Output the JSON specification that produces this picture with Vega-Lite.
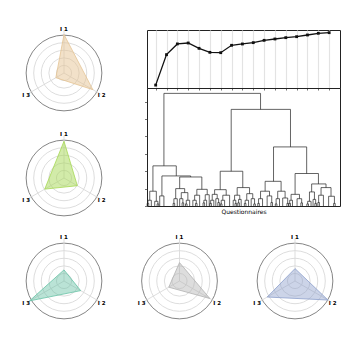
{
"$schema": "https://vega.github.io/schema/vega-lite/v6.json",
"background": "white",
"padding": {"left": 14, "top": 23, "right": 0, "bottom": 0},
"config": {"view": {"stroke": null}, "font": "DejaVu Sans", "axis": {"tickColor": "#333", "tickWidth": 0.7}},
"spacing": 3,
"vconcat": [
 {"spacing": 29, "hconcat": [
  {"bounds": "flush", "spacing": 5, "vconcat": [
   {"width": 100, "height": 100, "layer": [
    {"data": {"values": [{"r":0.2,"c":"g"},{"r":0.4,"c":"g"},{"r":0.6,"c":"g"},{"r":0.8,"c":"g"},{"r":1,"c":"o"}]}, "mark": {"type":"point","shape":"circle","filled":false,"opacity":1,"strokeWidth":0.9}, "encoding": {"size": {"field":"r","type":"quantitative","legend":null,"scale":{"type":"pow","exponent":2,"domain":[0,1.17],"range":[0,7854],"zero":true,"nice":false}}, "color": {"field":"c","type":"nominal","legend":null,"scale":{"domain":["g","o"],"range":["#d9d9d9","#777777"]}}}},
    {"data": {"values": [{"axis":"I 1","v":0.9},{"axis":"I 2","v":0.78},{"axis":"I 3","v":0.22}]},
     "transform": [
      {"calculate": "datum.axis == 'I 1' ? 0 : (datum.axis == 'I 2' ? 0.866 : -0.866)", "as": "ux"},
      {"calculate": "datum.axis == 'I 1' ? 1 : -0.5", "as": "uy"},
      {"calculate": "0", "as": "z"},
      {"calculate": "datum.v * datum.ux", "as": "px"},
      {"calculate": "datum.v * datum.uy", "as": "py"},
      {"calculate": "1.02 * datum.ux", "as": "lx"},
      {"calculate": "1.02 * datum.uy", "as": "ly"}
     ],
     "layer": [
      {"mark": {"type":"rule","color":"#d9d9d9","strokeWidth":0.9}, "encoding": {"x": {"field":"ux","type":"quantitative","scale":{"domain":[-1.17,1.17],"nice":false,"zero":false},"axis":null}, "y": {"field":"uy","type":"quantitative","scale":{"domain":[-1.17,1.17],"nice":false,"zero":false},"axis":null}, "x2": {"field":"z"}, "y2": {"field":"z"}}},
      {"mark": {"type":"line","interpolate":"linear-closed","fill":"#e5c494","fillOpacity":0.5,"stroke":"#e5c494","strokeWidth":0.8}, "encoding": {"x": {"field":"px","type":"quantitative","scale":{"domain":[-1.17,1.17],"nice":false,"zero":false},"axis":null}, "y": {"field":"py","type":"quantitative","scale":{"domain":[-1.17,1.17],"nice":false,"zero":false},"axis":null}, "order": {"field":"axis","type":"ordinal"}}},
      {"mark": {"type":"text","fontSize":5.5,"fontWeight":"bold","fill":"#000"}, "encoding": {"x": {"field":"lx","type":"quantitative","scale":{"domain":[-1.17,1.17],"nice":false,"zero":false},"axis":null}, "y": {"field":"ly","type":"quantitative","scale":{"domain":[-1.17,1.17],"nice":false,"zero":false},"axis":null}, "text": {"field":"axis","type":"nominal"}}}
     ]}
   ]},
   {"width": 100, "height": 100, "layer": [
    {"data": {"values": [{"r":0.2,"c":"g"},{"r":0.4,"c":"g"},{"r":0.6,"c":"g"},{"r":0.8,"c":"g"},{"r":1,"c":"o"}]}, "mark": {"type":"point","shape":"circle","filled":false,"opacity":1,"strokeWidth":0.9}, "encoding": {"size": {"field":"r","type":"quantitative","legend":null,"scale":{"type":"pow","exponent":2,"domain":[0,1.17],"range":[0,7854],"zero":true,"nice":false}}, "color": {"field":"c","type":"nominal","legend":null,"scale":{"domain":["g","o"],"range":["#d9d9d9","#777777"]}}}},
    {"data": {"values": [{"axis":"I 1","v":0.86},{"axis":"I 2","v":0.36},{"axis":"I 3","v":0.52}]},
     "transform": [
      {"calculate": "datum.axis == 'I 1' ? 0 : (datum.axis == 'I 2' ? 0.866 : -0.866)", "as": "ux"},
      {"calculate": "datum.axis == 'I 1' ? 1 : -0.5", "as": "uy"},
      {"calculate": "0", "as": "z"},
      {"calculate": "datum.v * datum.ux", "as": "px"},
      {"calculate": "datum.v * datum.uy", "as": "py"},
      {"calculate": "1.02 * datum.ux", "as": "lx"},
      {"calculate": "1.02 * datum.uy", "as": "ly"}
     ],
     "layer": [
      {"mark": {"type":"rule","color":"#d9d9d9","strokeWidth":0.9}, "encoding": {"x": {"field":"ux","type":"quantitative","scale":{"domain":[-1.17,1.17],"nice":false,"zero":false},"axis":null}, "y": {"field":"uy","type":"quantitative","scale":{"domain":[-1.17,1.17],"nice":false,"zero":false},"axis":null}, "x2": {"field":"z"}, "y2": {"field":"z"}}},
      {"mark": {"type":"line","interpolate":"linear-closed","fill":"#a6d854","fillOpacity":0.5,"stroke":"#a6d854","strokeWidth":0.8}, "encoding": {"x": {"field":"px","type":"quantitative","scale":{"domain":[-1.17,1.17],"nice":false,"zero":false},"axis":null}, "y": {"field":"py","type":"quantitative","scale":{"domain":[-1.17,1.17],"nice":false,"zero":false},"axis":null}, "order": {"field":"axis","type":"ordinal"}}},
      {"mark": {"type":"text","fontSize":5.5,"fontWeight":"bold","fill":"#000"}, "encoding": {"x": {"field":"lx","type":"quantitative","scale":{"domain":[-1.17,1.17],"nice":false,"zero":false},"axis":null}, "y": {"field":"ly","type":"quantitative","scale":{"domain":[-1.17,1.17],"nice":false,"zero":false},"axis":null}, "text": {"field":"axis","type":"nominal"}}}
     ]}
   ]}
  ]},
  {"bounds": "flush", "spacing": 0, "vconcat": [
   {"width": 193, "height": 7, "data": {"values": [{"a":1}]}, "mark": {"type":"point","opacity":0}, "encoding": {}},
   {"width": 193, "height": 58, "view": {"stroke": "#222222", "strokeWidth": 1},
    "data": {"values": [{"k":1,"v":0.05},{"k":2,"v":0.575},{"k":3,"v":0.76},{"k":4,"v":0.776},{"k":5,"v":0.684},{"k":6,"v":0.615},{"k":7,"v":0.609},{"k":8,"v":0.736},{"k":9,"v":0.759},{"k":10,"v":0.782},{"k":11,"v":0.822},{"k":12,"v":0.845},{"k":13,"v":0.868},{"k":14,"v":0.885},{"k":15,"v":0.914},{"k":16,"v":0.943},{"k":17,"v":0.954}]},
    "layer": [
     {"mark": {"type":"line","color":"#111","strokeWidth":1.3}, "encoding": {"x": {"field":"k","type":"quantitative","scale":{"domain":[0.2,18],"nice":false,"zero":false},"axis":{"values":[1,2,3,4,5,6,7,8,9,10,11,12,13,14,15,16,17],"grid":true,"gridColor":"#e3e3e3","gridWidth":1.2,"labels":false,"ticks":true,"tickSize":2,"domain":false,"title":null}}, "y": {"field":"v","type":"quantitative","scale":{"domain":[0,1],"nice":false,"zero":false},"axis":null}}},
     {"mark": {"type":"square","color":"#111","size":8,"filled":true,"opacity":1}, "encoding": {"x": {"field":"k","type":"quantitative","scale":{"domain":[0.2,18],"nice":false,"zero":false},"axis":{"values":[1,2,3,4,5,6,7,8,9,10,11,12,13,14,15,16,17],"grid":true,"gridColor":"#e3e3e3","gridWidth":1.2,"labels":false,"ticks":true,"tickSize":2,"domain":false,"title":null}}, "y": {"field":"v","type":"quantitative","scale":{"domain":[0,1],"nice":false,"zero":false},"axis":null}}}
    ]},
   {"width": 193, "height": 118, "view": {"stroke": "#222222", "strokeWidth": 1},
    "data": {"values": [
     {"xl":11.3,"xr":59.7,"h":6.48,"hl":2.31,"hr":5.56},
     {"xl":5.8,"xr":17.5,"h":2.31,"hl":0.85,"hr":1.73},
     {"xl":4.2,"xr":7.5,"h":0.85,"hl":0.33,"hr":0.27},
     {"xl":3.3,"xr":5.0,"h":0.33,"hl":0.15,"hr":0},
     {"xl":2.9,"xr":3.7,"h":0.15,"hl":0,"hr":0},
     {"xl":6.7,"xr":8.3,"h":0.27,"hl":0,"hr":0.12},
     {"xl":7.9,"xr":8.7,"h":0.12,"hl":0,"hr":0},
     {"xl":10.3,"xr":24.7,"h":1.73,"hl":0.58,"hr":1.67},
     {"xl":9.2,"xr":11.3,"h":0.58,"hl":0,"hr":0},
     {"xl":19.2,"xr":30.3,"h":1.67,"hl":1.0,"hr":0.96},
     {"xl":17.2,"xr":21.7,"h":1.0,"hl":0.42,"hr":0.77},
     {"xl":16.3,"xr":18.0,"h":0.42,"hl":0.15,"hr":0},
     {"xl":15.9,"xr":16.7,"h":0.15,"hl":0,"hr":0},
     {"xl":20.0,"xr":23.3,"h":0.77,"hl":0.42,"hr":0.33},
     {"xl":19.2,"xr":20.8,"h":0.42,"hl":0,"hr":0.18},
     {"xl":20.4,"xr":21.2,"h":0.18,"hl":0,"hr":0},
     {"xl":22.5,"xr":24.2,"h":0.33,"hl":0.12,"hr":0},
     {"xl":22.1,"xr":22.9,"h":0.12,"hl":0,"hr":0},
     {"xl":27.8,"xr":33.0,"h":0.96,"hl":0.62,"hr":0.65},
     {"xl":26.7,"xr":29.2,"h":0.62,"hl":0.33,"hr":0},
     {"xl":25.8,"xr":27.5,"h":0.33,"hl":0,"hr":0.15},
     {"xl":27.1,"xr":27.9,"h":0.15,"hl":0,"hr":0},
     {"xl":32.0,"xr":34.0,"h":0.65,"hl":0.33,"hr":0},
     {"xl":31.3,"xr":32.7,"h":0.33,"hl":0.18,"hr":0},
     {"xl":30.9,"xr":31.7,"h":0.18,"hl":0,"hr":0},
     {"xl":45.0,"xr":74.7,"h":5.56,"hl":2.0,"hr":3.4},
     {"xl":39.5,"xr":50.8,"h":2.0,"hl":0.94,"hr":1.06},
     {"xl":36.7,"xr":42.5,"h":0.94,"hl":0.67,"hr":0.62},
     {"xl":35.5,"xr":38.0,"h":0.67,"hl":0.33,"hr":0.42},
     {"xl":34.7,"xr":36.3,"h":0.33,"hl":0.15,"hr":0},
     {"xl":34.3,"xr":35.1,"h":0.15,"hl":0,"hr":0},
     {"xl":37.3,"xr":38.7,"h":0.42,"hl":0,"hr":0.2},
     {"xl":38.3,"xr":39.1,"h":0.2,"hl":0,"hr":0},
     {"xl":40.8,"xr":44.2,"h":0.62,"hl":0.33,"hr":0},
     {"xl":40.0,"xr":41.7,"h":0.33,"hl":0.12,"hr":0},
     {"xl":39.6,"xr":40.4,"h":0.12,"hl":0,"hr":0},
     {"xl":48.0,"xr":54.2,"h":1.06,"hl":0.62,"hr":0.71},
     {"xl":46.7,"xr":49.3,"h":0.62,"hl":0.33,"hr":0.38},
     {"xl":46.0,"xr":47.3,"h":0.33,"hl":0,"hr":0.15},
     {"xl":46.9,"xr":47.7,"h":0.15,"hl":0,"hr":0},
     {"xl":48.7,"xr":50.0,"h":0.38,"hl":0.18,"hr":0},
     {"xl":48.3,"xr":49.1,"h":0.18,"hl":0,"hr":0},
     {"xl":52.8,"xr":55.8,"h":0.71,"hl":0.33,"hr":0.42},
     {"xl":52.0,"xr":53.7,"h":0.33,"hl":0.15,"hr":0},
     {"xl":51.6,"xr":52.4,"h":0.15,"hl":0,"hr":0},
     {"xl":55.0,"xr":56.7,"h":0.42,"hl":0,"hr":0.12},
     {"xl":56.3,"xr":57.1,"h":0.12,"hl":0,"hr":0},
     {"xl":66.2,"xr":82.8,"h":3.4,"hl":1.42,"hr":1.87},
     {"xl":62.0,"xr":70.0,"h":1.42,"hl":0.85,"hr":0.85},
     {"xl":59.7,"xr":64.2,"h":0.85,"hl":0.42,"hr":0.58},
     {"xl":58.7,"xr":60.7,"h":0.42,"hl":0.15,"hr":0},
     {"xl":58.3,"xr":59.1,"h":0.15,"hl":0,"hr":0},
     {"xl":63.0,"xr":65.3,"h":0.58,"hl":0,"hr":0.2},
     {"xl":64.9,"xr":65.7,"h":0.2,"hl":0,"hr":0},
     {"xl":68.3,"xr":72.0,"h":0.85,"hl":0.42,"hr":0.46},
     {"xl":67.5,"xr":69.2,"h":0.42,"hl":0.12,"hr":0},
     {"xl":67.1,"xr":67.9,"h":0.12,"hl":0,"hr":0},
     {"xl":70.8,"xr":73.3,"h":0.46,"hl":0,"hr":0.15},
     {"xl":72.9,"xr":73.7,"h":0.15,"hl":0,"hr":0},
     {"xl":77.0,"xr":88.7,"h":1.87,"hl":0.67,"hr":1.27},
     {"xl":75.0,"xr":79.2,"h":0.67,"hl":0.33,"hr":0.42},
     {"xl":74.3,"xr":75.7,"h":0.33,"hl":0.15,"hr":0},
     {"xl":73.9,"xr":74.7,"h":0.15,"hl":0,"hr":0},
     {"xl":78.0,"xr":80.3,"h":0.42,"hl":0,"hr":0.18},
     {"xl":79.9,"xr":80.7,"h":0.18,"hl":0,"hr":0},
     {"xl":85.3,"xr":92.5,"h":1.27,"hl":0.81,"hr":1.06},
     {"xl":84.2,"xr":86.7,"h":0.81,"hl":0.27,"hr":0.38},
     {"xl":83.3,"xr":85.0,"h":0.27,"hl":0.12,"hr":0},
     {"xl":82.9,"xr":83.7,"h":0.12,"hl":0,"hr":0},
     {"xl":86.0,"xr":87.3,"h":0.38,"hl":0,"hr":0.15},
     {"xl":86.9,"xr":87.7,"h":0.15,"hl":0,"hr":0},
     {"xl":90.0,"xr":95.0,"h":1.06,"hl":0.62,"hr":0.56},
     {"xl":88.8,"xr":91.2,"h":0.62,"hl":0.2,"hr":0},
     {"xl":88.4,"xr":89.2,"h":0.2,"hl":0,"hr":0},
     {"xl":93.8,"xr":96.7,"h":0.56,"hl":0,"hr":0.15},
     {"xl":96.3,"xr":97.1,"h":0.15,"hl":0,"hr":0}
    ]},
    "layer": [
     {"mark": {"type":"rule","color":"#222","strokeWidth":0.7}, "encoding": {"x": {"field":"xl","type":"quantitative","title":"Questionnaires","scale":{"domain":[2.83,99.5],"nice":false,"zero":false},"axis":{"labels":false,"ticks":false,"domain":false,"grid":false,"titleFontSize":6,"titleFontWeight":"normal","titleColor":"#000","titlePadding":2}}, "x2": {"field":"xr"}, "y": {"field":"h","type":"quantitative","title":null,"scale":{"domain":[0,6.79],"nice":false,"zero":false},"axis":{"values":[0,1,2,3,4,5,6],"labels":false,"tickSize":2.5,"domain":false,"grid":false}}}},
     {"mark": {"type":"rule","color":"#222","strokeWidth":0.7}, "encoding": {"x": {"field":"xl","type":"quantitative","title":"Questionnaires","scale":{"domain":[2.83,99.5],"nice":false,"zero":false},"axis":{"labels":false,"ticks":false,"domain":false,"grid":false,"titleFontSize":6,"titleFontWeight":"normal","titleColor":"#000","titlePadding":2}}, "y": {"field":"hl","type":"quantitative","title":null,"scale":{"domain":[0,6.79],"nice":false,"zero":false},"axis":{"values":[0,1,2,3,4,5,6],"labels":false,"tickSize":2.5,"domain":false,"grid":false}}, "y2": {"field":"h"}}},
     {"mark": {"type":"rule","color":"#222","strokeWidth":0.7}, "encoding": {"x": {"field":"xr","type":"quantitative","title":"Questionnaires","scale":{"domain":[2.83,99.5],"nice":false,"zero":false},"axis":{"labels":false,"ticks":false,"domain":false,"grid":false,"titleFontSize":6,"titleFontWeight":"normal","titleColor":"#000","titlePadding":2}}, "y": {"field":"hr","type":"quantitative","title":null,"scale":{"domain":[0,6.79],"nice":false,"zero":false},"axis":{"values":[0,1,2,3,4,5,6],"labels":false,"tickSize":2.5,"domain":false,"grid":false}}, "y2": {"field":"h"}}}
    ]}
  ]}
 ]},
 {"bounds": "flush", "spacing": 15.5, "hconcat": [
  {"width": 100, "height": 100, "layer": [
   {"data": {"values": [{"r":0.2,"c":"g"},{"r":0.4,"c":"g"},{"r":0.6,"c":"g"},{"r":0.8,"c":"g"},{"r":1,"c":"o"}]}, "mark": {"type":"point","shape":"circle","filled":false,"opacity":1,"strokeWidth":0.9}, "encoding": {"size": {"field":"r","type":"quantitative","legend":null,"scale":{"type":"pow","exponent":2,"domain":[0,1.17],"range":[0,7854],"zero":true,"nice":false}}, "color": {"field":"c","type":"nominal","legend":null,"scale":{"domain":["g","o"],"range":["#d9d9d9","#777777"]}}}},
   {"data": {"values": [{"axis":"I 1","v":0.26},{"axis":"I 2","v":0.45},{"axis":"I 3","v":0.93}]},
    "transform": [
     {"calculate": "datum.axis == 'I 1' ? 0 : (datum.axis == 'I 2' ? 0.866 : -0.866)", "as": "ux"},
     {"calculate": "datum.axis == 'I 1' ? 1 : -0.5", "as": "uy"},
     {"calculate": "0", "as": "z"},
     {"calculate": "datum.v * datum.ux", "as": "px"},
     {"calculate": "datum.v * datum.uy", "as": "py"},
     {"calculate": "1.02 * datum.ux", "as": "lx"},
     {"calculate": "1.02 * datum.uy", "as": "ly"}
    ],
    "layer": [
     {"mark": {"type":"rule","color":"#d9d9d9","strokeWidth":0.9}, "encoding": {"x": {"field":"ux","type":"quantitative","scale":{"domain":[-1.17,1.17],"nice":false,"zero":false},"axis":null}, "y": {"field":"uy","type":"quantitative","scale":{"domain":[-1.17,1.17],"nice":false,"zero":false},"axis":null}, "x2": {"field":"z"}, "y2": {"field":"z"}}},
     {"mark": {"type":"line","interpolate":"linear-closed","fill":"#66c2a5","fillOpacity":0.45,"stroke":"#66c2a5","strokeWidth":0.8}, "encoding": {"x": {"field":"px","type":"quantitative","scale":{"domain":[-1.17,1.17],"nice":false,"zero":false},"axis":null}, "y": {"field":"py","type":"quantitative","scale":{"domain":[-1.17,1.17],"nice":false,"zero":false},"axis":null}, "order": {"field":"axis","type":"ordinal"}}},
     {"mark": {"type":"text","fontSize":5.5,"fontWeight":"bold","fill":"#000"}, "encoding": {"x": {"field":"lx","type":"quantitative","scale":{"domain":[-1.17,1.17],"nice":false,"zero":false},"axis":null}, "y": {"field":"ly","type":"quantitative","scale":{"domain":[-1.17,1.17],"nice":false,"zero":false},"axis":null}, "text": {"field":"axis","type":"nominal"}}}
    ]}
  ]},
  {"width": 100, "height": 100, "layer": [
   {"data": {"values": [{"r":0.2,"c":"g"},{"r":0.4,"c":"g"},{"r":0.6,"c":"g"},{"r":0.8,"c":"g"},{"r":1,"c":"o"}]}, "mark": {"type":"point","shape":"circle","filled":false,"opacity":1,"strokeWidth":0.9}, "encoding": {"size": {"field":"r","type":"quantitative","legend":null,"scale":{"type":"pow","exponent":2,"domain":[0,1.17],"range":[0,7854],"zero":true,"nice":false}}, "color": {"field":"c","type":"nominal","legend":null,"scale":{"domain":["g","o"],"range":["#d9d9d9","#777777"]}}}},
   {"data": {"values": [{"axis":"I 1","v":0.43},{"axis":"I 2","v":0.82},{"axis":"I 3","v":0.29}]},
    "transform": [
     {"calculate": "datum.axis == 'I 1' ? 0 : (datum.axis == 'I 2' ? 0.866 : -0.866)", "as": "ux"},
     {"calculate": "datum.axis == 'I 1' ? 1 : -0.5", "as": "uy"},
     {"calculate": "0", "as": "z"},
     {"calculate": "datum.v * datum.ux", "as": "px"},
     {"calculate": "datum.v * datum.uy", "as": "py"},
     {"calculate": "1.02 * datum.ux", "as": "lx"},
     {"calculate": "1.02 * datum.uy", "as": "ly"}
    ],
    "layer": [
     {"mark": {"type":"rule","color":"#d9d9d9","strokeWidth":0.9}, "encoding": {"x": {"field":"ux","type":"quantitative","scale":{"domain":[-1.17,1.17],"nice":false,"zero":false},"axis":null}, "y": {"field":"uy","type":"quantitative","scale":{"domain":[-1.17,1.17],"nice":false,"zero":false},"axis":null}, "x2": {"field":"z"}, "y2": {"field":"z"}}},
     {"mark": {"type":"line","interpolate":"linear-closed","fill":"#b3b3b3","fillOpacity":0.45,"stroke":"#b3b3b3","strokeWidth":0.8}, "encoding": {"x": {"field":"px","type":"quantitative","scale":{"domain":[-1.17,1.17],"nice":false,"zero":false},"axis":null}, "y": {"field":"py","type":"quantitative","scale":{"domain":[-1.17,1.17],"nice":false,"zero":false},"axis":null}, "order": {"field":"axis","type":"ordinal"}}},
     {"mark": {"type":"text","fontSize":5.5,"fontWeight":"bold","fill":"#000"}, "encoding": {"x": {"field":"lx","type":"quantitative","scale":{"domain":[-1.17,1.17],"nice":false,"zero":false},"axis":null}, "y": {"field":"ly","type":"quantitative","scale":{"domain":[-1.17,1.17],"nice":false,"zero":false},"axis":null}, "text": {"field":"axis","type":"nominal"}}}
    ]}
  ]},
  {"width": 100, "height": 100, "layer": [
   {"data": {"values": [{"r":0.2,"c":"g"},{"r":0.4,"c":"g"},{"r":0.6,"c":"g"},{"r":0.8,"c":"g"},{"r":1,"c":"o"}]}, "mark": {"type":"point","shape":"circle","filled":false,"opacity":1,"strokeWidth":0.9}, "encoding": {"size": {"field":"r","type":"quantitative","legend":null,"scale":{"type":"pow","exponent":2,"domain":[0,1.17],"range":[0,7854],"zero":true,"nice":false}}, "color": {"field":"c","type":"nominal","legend":null,"scale":{"domain":["g","o"],"range":["#d9d9d9","#777777"]}}}},
   {"data": {"values": [{"axis":"I 1","v":0.29},{"axis":"I 2","v":0.89},{"axis":"I 3","v":0.75}]},
    "transform": [
     {"calculate": "datum.axis == 'I 1' ? 0 : (datum.axis == 'I 2' ? 0.866 : -0.866)", "as": "ux"},
     {"calculate": "datum.axis == 'I 1' ? 1 : -0.5", "as": "uy"},
     {"calculate": "0", "as": "z"},
     {"calculate": "datum.v * datum.ux", "as": "px"},
     {"calculate": "datum.v * datum.uy", "as": "py"},
     {"calculate": "1.02 * datum.ux", "as": "lx"},
     {"calculate": "1.02 * datum.uy", "as": "ly"}
    ],
    "layer": [
     {"mark": {"type":"rule","color":"#d9d9d9","strokeWidth":0.9}, "encoding": {"x": {"field":"ux","type":"quantitative","scale":{"domain":[-1.17,1.17],"nice":false,"zero":false},"axis":null}, "y": {"field":"uy","type":"quantitative","scale":{"domain":[-1.17,1.17],"nice":false,"zero":false},"axis":null}, "x2": {"field":"z"}, "y2": {"field":"z"}}},
     {"mark": {"type":"line","interpolate":"linear-closed","fill":"#8da0cb","fillOpacity":0.45,"stroke":"#8da0cb","strokeWidth":0.8}, "encoding": {"x": {"field":"px","type":"quantitative","scale":{"domain":[-1.17,1.17],"nice":false,"zero":false},"axis":null}, "y": {"field":"py","type":"quantitative","scale":{"domain":[-1.17,1.17],"nice":false,"zero":false},"axis":null}, "order": {"field":"axis","type":"ordinal"}}},
     {"mark": {"type":"text","fontSize":5.5,"fontWeight":"bold","fill":"#000"}, "encoding": {"x": {"field":"lx","type":"quantitative","scale":{"domain":[-1.17,1.17],"nice":false,"zero":false},"axis":null}, "y": {"field":"ly","type":"quantitative","scale":{"domain":[-1.17,1.17],"nice":false,"zero":false},"axis":null}, "text": {"field":"axis","type":"nominal"}}}
    ]}
  ]}
 ]}
]
}
